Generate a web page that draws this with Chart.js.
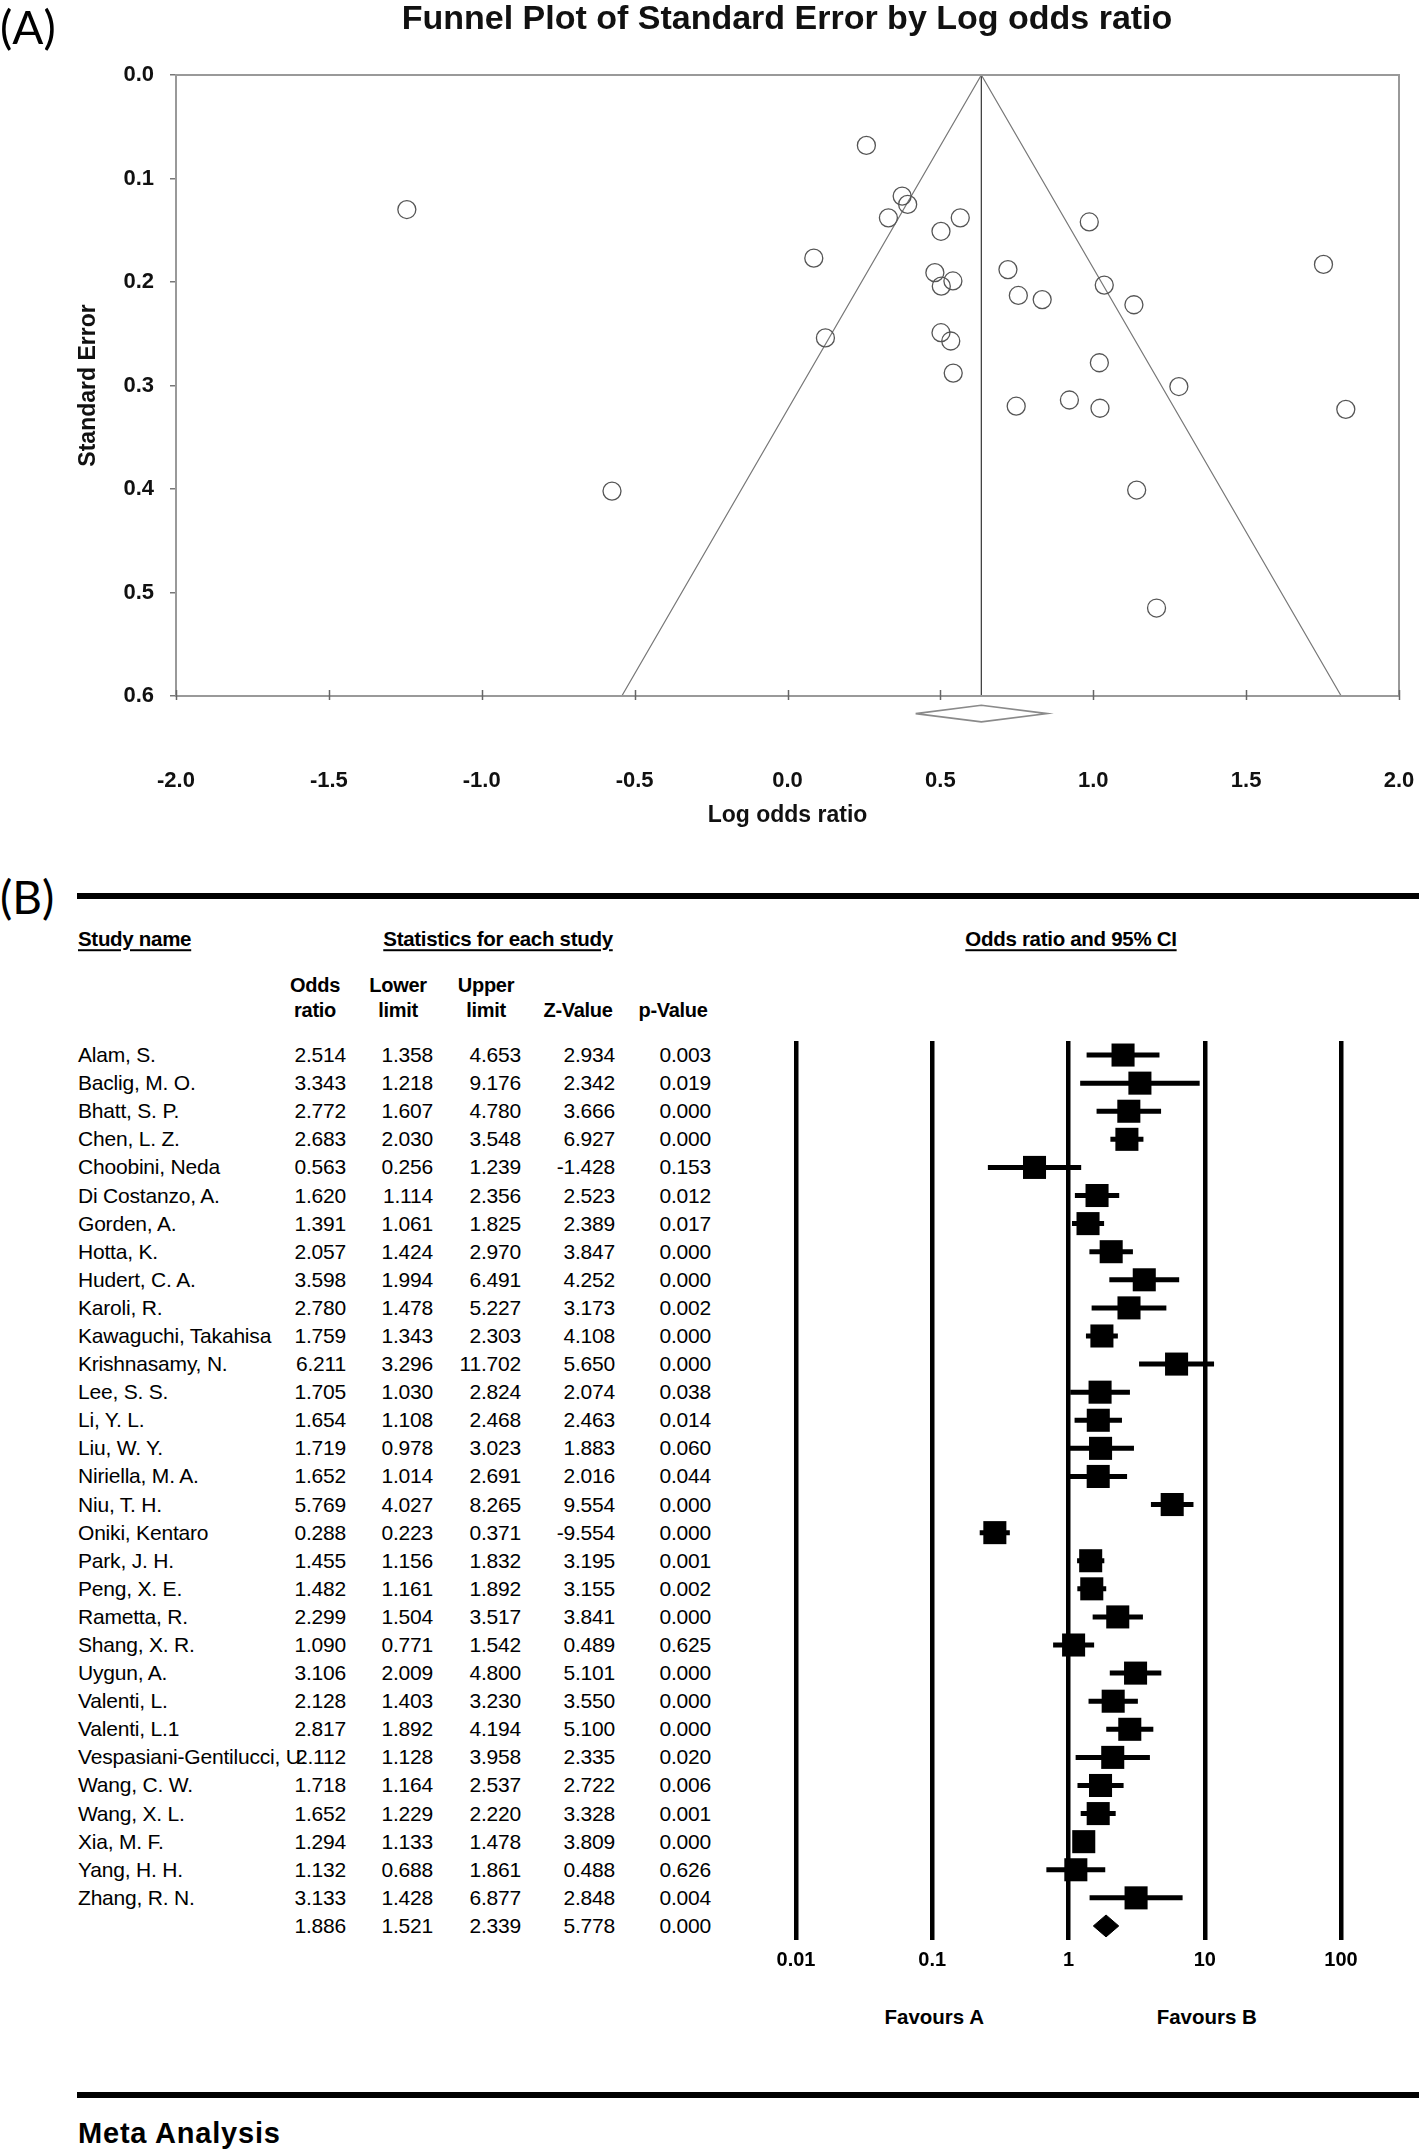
<!DOCTYPE html>
<html>
<head>
<meta charset="utf-8">
<title>Funnel plot and forest plot</title>
<script src="https://cdn.jsdelivr.net/npm/chart.js@4.4.1/dist/chart.umd.min.js"></script>
<style>
  body { margin: 0; background: #fff; }
  #page { position: relative; width: 1419px; height: 2151px; overflow: hidden;
          font-family: "Liberation Sans", Arial, sans-serif; color: #000; }
  canvas { position: absolute; }
  .t { position: absolute; white-space: nowrap; line-height: 1.15; }
  .panel { font-family: Lato, "Open Sans", sans-serif; font-size: 46px; }
  .title { font-weight: bold; font-size: 34px; color: #111; }
  .hdr { font-weight: bold; font-size: 20.5px; letter-spacing: -0.3px;
         text-decoration: underline; text-decoration-thickness: 2px; text-underline-offset: 3px; }
  .col { font-weight: bold; font-size: 20px; letter-spacing: -0.3px; }
  .cell { font-size: 21px; letter-spacing: -0.2px; }
  .fav { font-weight: bold; font-size: 20.5px; }
  .meta { font-weight: bold; font-size: 29px; letter-spacing: 0.8px; }
  .rule { position: absolute; left: 77px; right: 0; height: 6px; background: #000; }
</style>
</head>
<body>
<div id="page">
  <canvas id="funnel" width="1419" height="850" style="left:0;top:0;width:1419px;height:850px"></canvas>
  <canvas id="forest" width="660" height="990" style="left:740px;top:1000px;width:660px;height:990px"></canvas>
  <div class="rule" style="top:893px"></div>
  <div class="rule" style="top:2092px"></div>
</div>
<script>
// ---- study table (panel B) ----
const studyNames = ['Alam, S.', 'Baclig, M. O.', 'Bhatt, S. P.', 'Chen, L. Z.', 'Choobini, Neda',
  'Di Costanzo, A.', 'Gorden, A.', 'Hotta, K.', 'Hudert, C. A.', 'Karoli, R.', 'Kawaguchi, Takahisa',
  'Krishnasamy, N.', 'Lee, S. S.', 'Li, Y. L.', 'Liu, W. Y.', 'Niriella, M. A.', 'Niu, T. H.',
  'Oniki, Kentaro', 'Park, J. H.', 'Peng, X. E.', 'Rametta, R.', 'Shang, X. R.', 'Uygun, A.',
  'Valenti, L.', 'Valenti, L.1', 'Vespasiani-Gentilucci, U.', 'Wang, C. W.', 'Wang, X. L.',
  'Xia, M. F.', 'Yang, H. H.', 'Zhang, R. N.'];
const oddsRatios = [2.514, 3.343, 2.772, 2.683, 0.563, 1.620, 1.391, 2.057, 3.598, 2.780, 1.759,
  6.211, 1.705, 1.654, 1.719, 1.652, 5.769, 0.288, 1.455, 1.482, 2.299, 1.090, 3.106, 2.128, 2.817,
  2.112, 1.718, 1.652, 1.294, 1.132, 3.133];
const lowerLimits = [1.358, 1.218, 1.607, 2.030, 0.256, 1.114, 1.061, 1.424, 1.994, 1.478, 1.343,
  3.296, 1.030, 1.108, 0.978, 1.014, 4.027, 0.223, 1.156, 1.161, 1.504, 0.771, 2.009, 1.403, 1.892,
  1.128, 1.164, 1.229, 1.133, 0.688, 1.428];
const upperLimits = [4.653, 9.176, 4.780, 3.548, 1.239, 2.356, 1.825, 2.970, 6.491, 5.227, 2.303,
  11.702, 2.824, 2.468, 3.023, 2.691, 8.265, 0.371, 1.832, 1.892, 3.517, 1.542, 4.800, 3.230, 4.194,
  3.958, 2.537, 2.220, 1.478, 1.861, 6.877];
const zValues = [2.934, 2.342, 3.666, 6.927, -1.428, 2.523, 2.389, 3.847, 4.252, 3.173, 4.108,
  5.650, 2.074, 2.463, 1.883, 2.016, 9.554, -9.554, 3.195, 3.155, 3.841, 0.489, 5.101, 3.550, 5.100,
  2.335, 2.722, 3.328, 3.809, 0.488, 2.848];
const pValues = [0.003, 0.019, 0.000, 0.000, 0.153, 0.012, 0.017, 0.000, 0.000, 0.002, 0.000,
  0.000, 0.038, 0.014, 0.060, 0.044, 0.000, 0.000, 0.001, 0.002, 0.000, 0.625, 0.000, 0.000, 0.000,
  0.020, 0.006, 0.001, 0.000, 0.626, 0.004];
// pooled row
const pooledOR = 1.886, pooledLower = 1.521, pooledUpper = 2.339, pooledZ = 5.778, pooledP = 0.000;
const orTicks = [0.01, 0.1, 1, 10, 100];
const orTickLabels = ['0.01', '0.1', '1', '10', '100'];

// ---- funnel plot (panel A) ----
const logOdds = [0.922, 1.207, 1.020, 0.987, -0.574, 0.482, 0.330, 0.721, 1.280, 1.022, 0.565,
  1.826, 0.534, 0.503, 0.542, 0.502, 1.753, -1.245, 0.375, 0.393, 0.833, 0.086, 1.133, 0.755, 1.036,
  0.748, 0.541, 0.502, 0.258, 0.124, 1.142];
const stdErrors = [0.314, 0.515, 0.278, 0.142, 0.402, 0.191, 0.138, 0.188, 0.301, 0.322, 0.138,
  0.323, 0.257, 0.204, 0.288, 0.249, 0.183, 0.130, 0.117, 0.125, 0.217, 0.177, 0.222, 0.213, 0.203,
  0.320, 0.199, 0.151, 0.068, 0.254, 0.401];
const funnelX = [-0.542, 0.634, 1.811];
const funnelY = [0.6, 0.0, 0.6];
const pooledLogOR = 0.634;
const diamondX = [0.419, 0.634, 0.850, 0.634, 0.419];
const diamondY = [0.617, 0.609, 0.617, 0.625, 0.617];
const lorTicks = [-2, -1.5, -1, -0.5, 0, 0.5, 1, 1.5, 2];
const seTicks = [0, 0.1, 0.2, 0.3, 0.4, 0.5, 0.6];

const FONT = '"Liberation Sans", Arial, sans-serif';
Chart.defaults.font.family = FONT;
Chart.defaults.color = '#111';

const page = document.getElementById('page');

function put(text, x, y, cls, align){
    const d = document.createElement('div');
    d.className = 't ' + cls;
    d.textContent = text;
    d.style.left = x + 'px';
    d.style.top = y + 'px';
    const tx = align === 'right' ? '-100%' : (align === 'center' ? '-50%' : '0');
    d.style.transform = 'translate(' + tx + ',-50%)';
    page.appendChild(d);
    return d;
}

// box + inward x ticks for the funnel plot
const funnelFrame = {
    id: 'funnelFrame',
    afterDatasetsDraw(chart){
        const {ctx, chartArea: a, scales} = chart;
        ctx.save();
        ctx.strokeStyle = '#999';
        ctx.lineWidth = 2;
        ctx.strokeRect(a.left, a.top, a.right - a.left, a.bottom - a.top);
        ctx.strokeStyle = '#666';
        ctx.lineWidth = 1.5;
        lorTicks.forEach(v => {
            const px = Math.round(scales.x.getPixelForValue(v)) + 0.5;
            ctx.beginPath();
            ctx.moveTo(px, a.bottom - 6);
            ctx.lineTo(px, a.bottom + 4);
            ctx.stroke();
        });
        ctx.restore();
    }
};

function drawFunnel(){
    const pts = logOdds.map((x, i) => ({x: x, y: stdErrors[i]}));
    new Chart(document.getElementById('funnel'), {
        type: 'scatter',
        data: {
            datasets: [
                { label: 'Studies', data: pts, pointStyle: 'circle', pointRadius: 9,
                  borderColor: '#555', borderWidth: 1.3, backgroundColor: 'rgba(0,0,0,0)' },
                { type: 'line', label: 'Funnel', data: funnelX.map((x, i) => ({x: x, y: funnelY[i]})),
                  showLine: true, borderColor: '#777', borderWidth: 1.2, pointRadius: 0, tension: 0 },
                { type: 'line', label: 'Pooled', data: [{x: pooledLogOR, y: seTicks[0]}, {x: pooledLogOR, y: seTicks[seTicks.length - 1]}],
                  showLine: true, borderColor: '#444', borderWidth: 1.3, pointRadius: 0 },
                { type: 'line', label: 'Diamond', data: diamondX.map((x, i) => ({x: x, y: diamondY[i]})),
                  showLine: true, borderColor: '#8a8a8a', borderWidth: 1.6, pointRadius: 0, clip: false }
            ]
        },
        options: {
            responsive: false,
            animation: false,
            events: [],
            layout: { padding: { left: 0, right: 20, top: 75, bottom: 0 } },
            plugins: { legend: { display: false }, tooltip: { enabled: false } },
            scales: {
                x: {
                    type: 'linear', min: -2, max: 2,
                    afterBuildTicks: s => { s.ticks = lorTicks.map(v => ({value: v})); },
                    // labels sit far below the axis; keep that gap out of the side padding
                    afterFit: s => { s.height = 154; s.paddingLeft = 0; s.paddingRight = 0; },
                    grid: { display: false },
                    border: { display: false },
                    ticks: { padding: 64, color: '#111', font: { size: 22, weight: 'bold' },
                             callback: v => Number(v).toFixed(1), maxRotation: 0, autoSkip: false },
                    title: { display: true, text: 'Log odds ratio', color: '#111',
                             font: { size: 23, weight: 'bold' }, padding: { top: 0, bottom: 21 } }
                },
                y: {
                    type: 'linear', reverse: true, min: 0, max: 0.6,
                    afterBuildTicks: s => { s.ticks = seTicks.map(v => ({value: v})); },
                    afterFit: s => { s.width = 176; },
                    grid: { drawOnChartArea: false, tickLength: 6, color: '#777', lineWidth: 1.5 },
                    border: { display: false },
                    ticks: { padding: 16, color: '#111', font: { size: 22, weight: 'bold' },
                             callback: v => Number(v).toFixed(1) },
                    title: { display: true, text: 'Standard Error', color: '#111',
                             font: { size: 23, weight: 'bold' }, padding: { top: 75, bottom: 0 } }
                }
            }
        },
        plugins: [funnelFrame]
    });
}

function drawForest(){
    const whiskers = [];
    oddsRatios.forEach((v, i) => {
        whiskers.push({x: lowerLimits[i], y: i}, {x: upperLimits[i], y: i}, {x: null, y: null});
    });
    const squares = oddsRatios.map((v, i) => ({x: v, y: i}));
    const last = studyNames.length;
    const diamond = [
        {x: pooledLower, y: last}, {x: pooledOR, y: last - 0.39},
        {x: pooledUpper, y: last}, {x: pooledOR, y: last + 0.39}, {x: pooledLower, y: last}
    ];
    return new Chart(document.getElementById('forest'), {
        type: 'scatter',
        data: {
            datasets: [
                { label: 'OR', data: squares, pointStyle: 'rect', pointRadius: 16.3,
                  backgroundColor: '#000', borderWidth: 0 },
                { type: 'line', label: 'CI', data: whiskers, showLine: true, spanGaps: false,
                  borderColor: '#000', borderWidth: 5, pointRadius: 0 },
                { type: 'line', label: 'Pooled', data: diamond, showLine: true, fill: 'shape',
                  backgroundColor: '#000', borderColor: '#000', borderWidth: 1, pointRadius: 0 }
            ]
        },
        options: {
            responsive: false,
            animation: false,
            events: [],
            layout: { padding: { left: 56, right: 59, top: 41, bottom: 0 } },
            plugins: { legend: { display: false }, tooltip: { enabled: false } },
            scales: {
                x: {
                    type: 'logarithmic', min: orTicks[0], max: orTicks[orTicks.length - 1],
                    afterBuildTicks: s => { s.ticks = orTicks.map(v => ({value: v})); },
                    afterFit: s => { s.height = 50; s.paddingLeft = 0; s.paddingRight = 0; },
                    grid: { color: '#000', lineWidth: 4.5, drawTicks: false },
                    border: { display: false },
                    ticks: { padding: 8, color: '#000', font: { size: 20, weight: 'bold' },
                             maxRotation: 0, autoSkip: false,
                             callback: (v, i) => orTickLabels[i] }
                },
                y: { type: 'linear', display: false, reverse: true, min: -0.5, max: last + 0.5 }
            }
        }
    });
}

function drawText(forest){
    put('(A)', 0, 27, 'panel', 'left');
    put('Funnel Plot of Standard Error by Log odds ratio', 787, 18, 'title', 'center');
    put('(B)', 0, 897, 'panel', 'left');

    put('Study name', 78, 939, 'hdr', 'left');
    put('Statistics for each study', 498, 939, 'hdr', 'center');
    put('Odds ratio and 95% CI', 1071, 939, 'hdr', 'center');

    const colCenters = [315, 398, 486, 578, 673];
    put('Odds', colCenters[0], 985, 'col', 'center');
    put('Lower', colCenters[1], 985, 'col', 'center');
    put('Upper', colCenters[2], 985, 'col', 'center');
    ['ratio', 'limit', 'limit', 'Z-Value', 'p-Value'].forEach((h, k) => put(h, colCenters[k], 1010, 'col', 'center'));

    const top = 1000;
    const ys = forest.scales.y;
    const rightEdges = [346, 433, 521, 615, 711];
    const row = (name, vals, i) => {
        const cy = top + ys.getPixelForValue(i);
        if (name) put(name, 78, cy, 'cell', 'left');
        vals.forEach((v, k) => put(v.toFixed(3), rightEdges[k], cy, 'cell', 'right'));
    };
    studyNames.forEach((n, i) => row(n, [oddsRatios[i], lowerLimits[i], upperLimits[i], zValues[i], pValues[i]], i));
    row('', [pooledOR, pooledLower, pooledUpper, pooledZ, pooledP], studyNames.length);

    const xs = forest.scales.x;
    put('Favours A', 740 + xs.getPixelForValue(orTicks[1]) + 2, 2017, 'fav', 'center');
    put('Favours B', 740 + xs.getPixelForValue(orTicks[3]) + 2, 2017, 'fav', 'center');

    put('Meta Analysis', 78, 2134, 'meta', 'left');
}

drawFunnel();
const forestChart = drawForest();
drawText(forestChart);
</script>
</body>
</html>
